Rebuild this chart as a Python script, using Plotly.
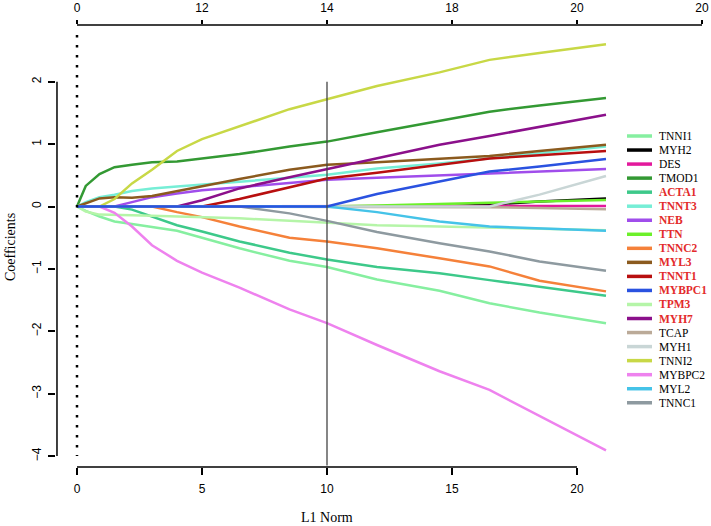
import plotly.graph_objects as go

# L1 norm grid
l1_norm = [0, 0.35, 0.9, 1.5, 2.2, 3, 4, 5, 6.5, 8.5, 10, 12, 14.5, 16.5, 18.5, 21.16]

genes = ["TNNI1", "MYH2", "DES", "TMOD1", "ACTA1", "TNNT3", "NEB", "TTN", "TNNC2", "MYL3",
         "TNNT1", "MYBPC1", "TPM3", "MYH7", "TCAP", "MYH1", "TNNI2", "MYBPC2", "MYL2", "TNNC1"]
highlighted = ["ACTA1", "TNNT3", "NEB", "TTN", "TNNC2", "MYL3", "TNNT1", "MYBPC1", "TPM3", "MYH7"]

TNNI1 = [0, -0.07, -0.16, -0.24, -0.28, -0.33, -0.39, -0.50, -0.67, -0.87, -0.97, -1.17, -1.35, -1.55, -1.70, -1.87]
MYH2 = [0, 0, 0, 0, 0, 0, 0, 0, 0, 0, 0, 0, 0, 0.03, 0.08, 0.13]
DES = [0, 0, 0, 0, 0, 0, 0, 0, 0, 0, 0, 0, 0, 0, 0.005, 0.01]
TMOD1 = [0, 0.33, 0.52, 0.63, 0.67, 0.71, 0.72, 0.77, 0.84, 0.96, 1.04, 1.19, 1.37, 1.52, 1.62, 1.74]
ACTA1 = [0, 0, 0, 0, -0.05, -0.16, -0.30, -0.40, -0.56, -0.74, -0.85, -0.97, -1.07, -1.18, -1.29, -1.43]
TNNT3 = [0, 0.07, 0.15, 0.19, 0.25, 0.29, 0.32, 0.35, 0.39, 0.46, 0.51, 0.61, 0.69, 0.77, 0.85, 0.96]
NEB = [0, 0, 0, 0, 0.07, 0.15, 0.21, 0.26, 0.31, 0.38, 0.43, 0.46, 0.50, 0.53, 0.56, 0.60]
TTN = [0, 0, 0, 0, 0, 0, 0, 0, 0, 0, 0, 0.015, 0.04, 0.06, 0.08, 0.105]
TNNC2 = [0, 0, 0, 0, 0, 0, -0.09, -0.17, -0.32, -0.50, -0.56, -0.67, -0.83, -0.96, -1.19, -1.36]
MYL3 = [0, 0.05, 0.13, 0.15, 0.14, 0.17, 0.25, 0.33, 0.44, 0.59, 0.67, 0.71, 0.76, 0.81, 0.89, 0.99]
TNNT1 = [0, 0, 0, 0, 0, 0, 0, 0, 0.12, 0.31, 0.45, 0.54, 0.67, 0.77, 0.82, 0.89]
MYBPC1 = [0, 0, 0, 0, 0, 0, 0, 0, 0, 0, 0, 0.20, 0.40, 0.56, 0.64, 0.76]
TPM3 = [0, -0.08, -0.13, -0.14, -0.14, -0.15, -0.16, -0.17, -0.19, -0.23, -0.26, -0.30, -0.32, -0.34, -0.36, -0.38]
MYH7 = [0, 0, 0, 0, 0, 0, 0, 0.10, 0.29, 0.47, 0.60, 0.77, 0.99, 1.13, 1.28, 1.47]
TCAP = [0, 0, 0, 0, 0, 0, 0, 0, 0, 0, 0, 0, 0, -0.01, -0.025, -0.045]
MYH1 = [0, 0, 0, 0, 0, 0, 0, 0, 0, 0, 0, 0, 0, 0, 0.19, 0.49]
TNNI2 = [0, 0, 0, 0.12, 0.37, 0.59, 0.89, 1.08, 1.29, 1.56, 1.72, 1.93, 2.15, 2.35, 2.46, 2.60]
MYBPC2 = [0, 0, 0, -0.10, -0.32, -0.62, -0.87, -1.06, -1.30, -1.65, -1.87, -2.22, -2.64, -2.94, -3.36, -3.91]
MYL2 = [0, 0, 0, 0, 0, 0, 0, 0, 0, 0, 0, -0.09, -0.24, -0.32, -0.35, -0.39]
TNNC1 = [0, 0, 0, 0, 0, 0, 0, 0, 0, -0.11, -0.23, -0.41, -0.59, -0.72, -0.88, -1.03]

coefs = {"TNNI1": TNNI1, "MYH2": MYH2, "DES": DES, "TMOD1": TMOD1, "ACTA1": ACTA1, "TNNT3": TNNT3,
         "NEB": NEB, "TTN": TTN, "TNNC2": TNNC2, "MYL3": MYL3, "TNNT1": TNNT1, "MYBPC1": MYBPC1,
         "TPM3": TPM3, "MYH7": MYH7, "TCAP": TCAP, "MYH1": MYH1, "TNNI2": TNNI2, "MYBPC2": MYBPC2,
         "MYL2": MYL2, "TNNC1": TNNC1}

colors = {"TNNI1": "#86EFA0", "MYH2": "#000000", "DES": "#E3199C", "TMOD1": "#339933",
          "ACTA1": "#3DC98A", "TNNT3": "#76EED6", "NEB": "#A04DEB", "TTN": "#6CF02A",
          "TNNC2": "#F5813A", "MYL3": "#8B5A1E", "TNNT1": "#B80F0F", "MYBPC1": "#2A52E0",
          "TPM3": "#B5F5A8", "MYH7": "#8B108B", "TCAP": "#BBAA98", "MYH1": "#C9D6D6",
          "TNNI2": "#C8D846", "MYBPC2": "#EE82EE", "MYL2": "#45C3E8", "TNNC1": "#8E9AA0"}

bottom_ticks = [0, 5, 10, 15, 20]
top_ticks = [0, 5, 10, 15, 20, 25]
top_labels = ["0", "12", "14", "18", "20", "20"]
y_ticks = [-4, -3, -2, -1, 0, 1, 2]
selected_l1 = 10

XR = [-0.84, 25.36]
YR = [-4.175, 2.909]

fig = go.Figure()
draw_order = [g for g in genes if g != "MYBPC1"] + ["MYBPC1"]
for g in draw_order:
    fig.add_trace(go.Scatter(x=l1_norm, y=coefs[g], mode="lines", name=g,
                             line=dict(color=colors[g], width=2.5), showlegend=False,
                             hoverinfo="skip"))
fig.add_trace(go.Scatter(x=[], y=[], xaxis="x2", showlegend=False))

shapes = []
# axis lines
shapes.append(dict(type="line", xref="x", yref="paper", x0=0, x1=20, y0=0, y1=0,
                   line=dict(color="black", width=1.5)))
shapes.append(dict(type="line", xref="x", yref="paper", x0=0, x1=25, y0=1, y1=1,
                   line=dict(color="black", width=1.5)))
shapes.append(dict(type="line", xref="paper", yref="y", x0=0.0015, x1=0.0015, y0=-4, y1=2,
                   line=dict(color="black", width=1.5)))
# dotted line at 0
shapes.append(dict(type="line", xref="x", yref="y", x0=0, x1=0, y0=2.75, y1=-4.0,
                   line=dict(color="black", width=2.5, dash="2.5px,7.5px")))
# selected lambda line
shapes.append(dict(type="line", xref="x", yref="y", x0=selected_l1, x1=selected_l1, y0=2.0, y1=-4.15,
                   line=dict(color="#444444", width=1.3)))

annotations = []
# custom legend
W, H = 711, 526
L, R, T, B = 56, 0, 25, 59
pw, ph = W - L - R, H - T - B
def px2paper(px, py):
    return (px - L) / pw, (H - B - py) / ph

for i, g in enumerate(genes):
    py = 136 + i * 14.04
    xa, ya = px2paper(627, py)
    xb, _ = px2paper(652, py)
    shapes.append(dict(type="line", xref="paper", yref="paper", x0=xa, x1=xb, y0=ya, y1=ya,
                       line=dict(color=colors[g], width=3.5)))
    xt, _ = px2paper(659, py)
    if g in highlighted:
        txt = "<b>" + g + "</b>"
        col = "#E32B2B"
    else:
        txt = g
        col = "black"
    annotations.append(dict(xref="paper", yref="paper", x=xt, y=ya, text=txt, showarrow=False,
                            xanchor="left", yanchor="middle", xshift=-2,
                            font=dict(family="Liberation Serif", size=11.5, color=col)))

xl, yl = px2paper(327, 517)
annotations.append(dict(xref="paper", yref="paper", x=xl, y=yl, text="L1 Norm", showarrow=False,
                        xanchor="center", yanchor="middle",
                        font=dict(family="Liberation Serif", size=14, color="black")))
xc, yc = px2paper(10, 247)
annotations.append(dict(xref="paper", yref="paper", x=xc, y=yc, text="Coefficients", showarrow=False,
                        xanchor="center", yanchor="middle", textangle=-90,
                        font=dict(family="Liberation Serif", size=14, color="black")))

tickfont = dict(family="Liberation Sans", size=12, color="black")
fig.update_layout(
    width=W, height=H,
    margin=dict(l=L, r=R, t=T, b=B, pad=0),
    paper_bgcolor="white", plot_bgcolor="white",
    showlegend=False,
    shapes=shapes, annotations=annotations,
    xaxis=dict(range=XR, tickmode="array", tickvals=bottom_ticks, ticks="outside", ticklen=7,
               tickwidth=1.5, tickcolor="black", showgrid=False, zeroline=False, showline=False,
               tickfont=tickfont, fixedrange=True, ticklabelstandoff=4),
    xaxis2=dict(range=XR, overlaying="x", side="top", anchor="y", tickmode="array",
                tickvals=top_ticks, ticktext=top_labels, ticks="outside", ticklen=4,
                tickwidth=1.5, tickcolor="black", showgrid=False, zeroline=False, showline=False,
                tickfont=tickfont, fixedrange=True, ticklabelstandoff=3),
    yaxis=dict(range=YR, tickmode="array", tickvals=y_ticks, ticks="outside", ticklen=7,
               tickwidth=1.5, tickcolor="black", showgrid=False, zeroline=False, showline=False,
               tickangle=-90, tickfont=tickfont, fixedrange=True, ticklabelstandoff=2),
)

fig.write_html("out.html", config={"displayModeBar": False},
               post_script="document.body.style.margin='0';")
